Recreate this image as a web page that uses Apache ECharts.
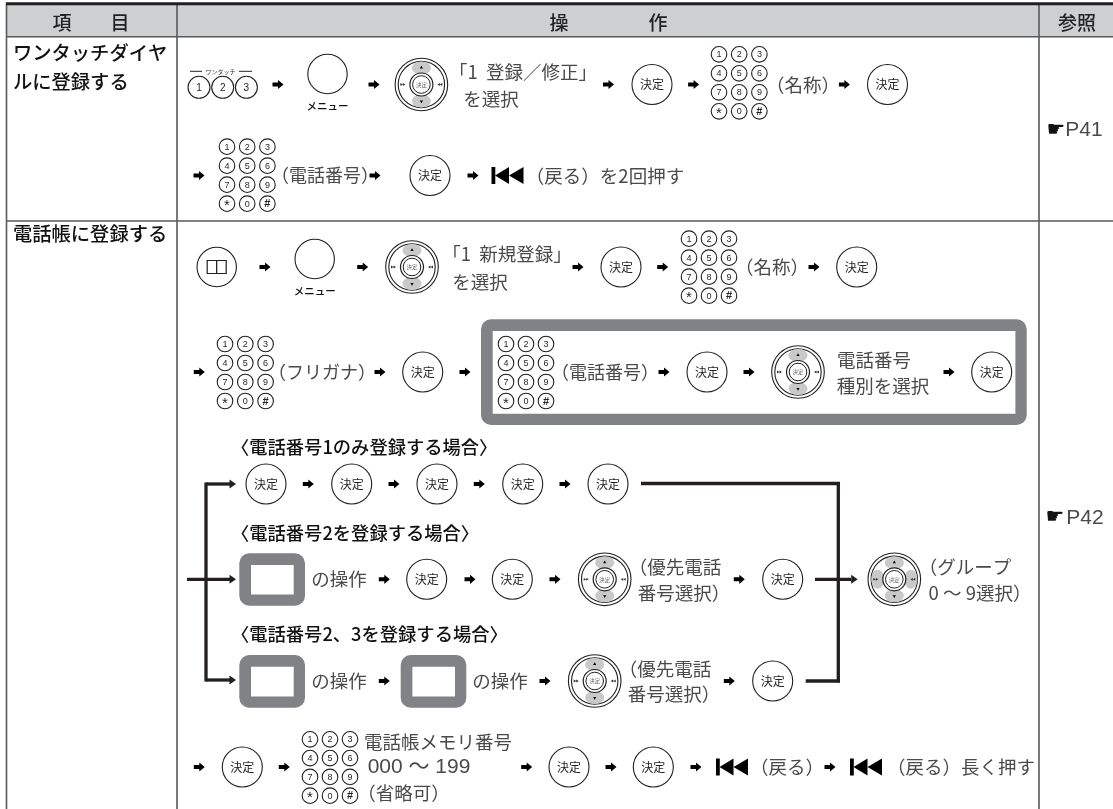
<!DOCTYPE html>
<html>
<head>
<meta charset="utf-8">
<script src="https://cdn.jsdelivr.net/npm/echarts@6/dist/echarts.min.js"></script>
<style>
html, body { margin: 0; padding: 0; background: #fff; }
#main { width: 1113px; height: 809px; }
</style>
</head>
<body>
<div id="main"></div>
<script>
// 表の文字
var keyLabels = ['1', '2', '3', '4', '5', '6', '7', '8', '9', '*', '0', '#'];
var topKeyLabels = ['1', '2', '3'];
var okLabel = '決定';
var menuLabel = 'メニュー';
var oneTouchLabel = 'ワンタッチ';

// [x, y, 文字] 軸の値 = 図の読み取り
var headerTexts = [[62, 22.5, '項'], [120, 22.5, '目'], [559, 22.5, '操'], [658, 22.5, '作'], [1077, 22.5, '参照']];
var rowTitles = [[13, 53, 'ワンタッチダイヤ'], [13, 82, 'ルに登録する'], [13, 234, '電話帳に登録する']];
var caseTitles = [[231, 447, '〈電話番号1のみ登録する場合〉'], [231, 533, '〈電話番号2を登録する場合〉'], [231, 634, '〈電話番号2、3を登録する場合〉']];
var stepTexts = [
    [523, 71.5, '「1  登録／修正」'], [491, 98.5, 'を選択'],
    [803, 85, '（名称）'], [605, 175.5, '（戻る）を2回押す'],
    [507, 254, '「1  新規登録」'], [480, 282, 'を選択'],
    [772, 267, '（名称）'],
    [874, 360, '電話番号'], [883, 386, '種別を選択'],
    [339, 579, 'の操作'], [339, 681, 'の操作'], [500, 681, 'の操作'],
    [675, 567, '（優先電話'], [684, 593, '番号選択）'],
    [665, 669, '（優先電話'], [674, 694, '番号選択）'],
    [965, 567, '（グループ'], [980, 593, '0 ～ 9選択）'],
    [438, 742, '電話帳メモリ番号'], [403.5, 793, '（省略可）'],
    [787, 767, '（戻る）'], [961, 767, '（戻る）長く押す']
];
var narrowTexts = [[325, 175.5, '（電話番号）'], [322, 372, '（フリガナ）'], [605, 372, '（電話番号）']];
var numberTexts = [[419, 767, '000 ～ 199']];
var pageRefs = [[1084, 130.5, 'P41'], [1085, 518, 'P42']];
var pageHands = [[1056, 130.5], [1055, 518]];

// 部品の位置
var okButtons = [
    [652, 84.5], [887.5, 84.5], [430, 175.5], [621, 267], [856.7, 267],
    [422.7, 372], [707, 372], [991.7, 372],
    [266, 484], [351.7, 484], [437, 484], [522.7, 484], [608, 484],
    [426.7, 579.3], [512.3, 579.3], [782.7, 579.3], [772.7, 681],
    [242.3, 767], [569, 767], [653.3, 767]
];
var arrows = [
    [278, 84.5], [374, 84.5], [608.5, 84.5], [693.6, 84.5], [844.4, 84.5],
    [199, 175.5], [375, 175.5], [473, 175.5],
    [265, 267], [362.7, 267], [578, 267], [662.7, 267], [814, 267],
    [199.3, 372], [380, 372], [465, 372], [664, 372], [749, 372], [949, 372],
    [308.3, 484], [394, 484], [479.3, 484], [565, 484],
    [384.3, 579.3], [470, 579.3], [555, 579.3], [739.3, 579.3],
    [384.3, 681], [545, 681], [729.3, 681],
    [199.3, 767], [284.3, 767], [526.7, 767], [611, 767], [696, 767], [830, 767]
];
var dials = [[421.4, 84.5], [412, 267], [798, 372], [604.7, 579.3], [594.7, 681]];
var fourWayDials = [[894.3, 579.3]];
// [左上のx, 左上のy, 列の間隔, 行の間隔]
var keypads = [
    [719, 54.3, 20.2, 19], [227, 146.7, 20.2, 19], [689, 238.7, 20, 19],
    [225, 344, 20.3, 19], [506, 344, 20, 19], [310, 739.3, 20, 18.8]
];
var menuButtons = [[327.5, 74], [314.7, 259]];
var bookButtons = [[216.7, 267]];
var oneTouchKeys = [[199, 87.3]];
var backIcons = [[507.5, 175.5], [732, 767], [866, 767]];

// 灰色の枠 [外左, 外上, 外右, 外下]
var frames = [[481, 319.3, 1026.7, 425], [239.3, 553.3, 305, 605.7], [239.3, 655, 305, 707.7], [400.7, 655, 466.3, 707.7]];

// 線 [x1, y1, x2, y2]
var tableRules = [[6.5, 3, 6.5, 809], [177, 5, 177, 809], [1039, 5, 1039, 809], [6, 221, 1113, 221], [6, 36.8, 1113, 36.8]];
var flowRules = [
    [187, 579.3, 231, 579.3], [206, 484, 231, 484], [206, 482.5, 206, 681.5], [206, 680, 231, 680],
    [641, 483.5, 840, 483.5], [838.3, 482, 838.3, 682.5], [805.7, 681, 840, 681], [815, 579.3, 851, 579.3]
];
var flowHeads = [[236, 484], [236, 579.3], [236, 680], [857.7, 579.3]];

var INK = '#231f20';
var SOFT = '#4a4a4a';
var CJK = '"Noto Sans CJK JP", sans-serif';
var LATIN = '"Liberation Sans", sans-serif';

function marks(rows, draw) {
    return {
        type: 'custom',
        coordinateSystem: 'cartesian2d',
        clip: false,
        silent: true,
        data: rows.map(function (r) { return [r[0], r[1]]; }),
        encode: { x: 0, y: 1 },
        renderItem: function (params, api) {
            var row = rows[params.dataIndex];
            return draw(api.coord([row[0], row[1]]), row, api);
        }
    };
}

function text(x, y, str, size, fill, align, weight, family) {
    return {
        type: 'text', x: x, y: y,
        style: {
            text: str, fontSize: size, fontFamily: family || CJK, fill: fill,
            fontWeight: weight || 'normal', align: align || 'center', verticalAlign: 'middle'
        }
    };
}

function circle(x, y, r, fill, lw) {
    return { type: 'circle', shape: { cx: x, cy: y, r: r }, style: { fill: fill || '#fff', stroke: INK, lineWidth: lw || 1.1 } };
}

function poly(points, fill) {
    return { type: 'polygon', shape: { points: points }, style: { fill: fill || '#000' } };
}

function keyCircle(x, y, label) {
    if (label === '#') {
        return [circle(x, y, 7.8), text(x, y + 0.5, label, 11, INK, 'center', 'bold', LATIN)];
    }
    if (label === '*') {
        return [circle(x, y, 7.8), text(x, y + 2.5, label, 15, INK, 'center', 'normal', LATIN)];
    }
    return [circle(x, y, 7.8), text(x, y + 0.5, label, 9, INK, 'center', 'normal', LATIN)];
}

function drawDial(p, fourWay) {
    var c = [];
    c.push(circle(0, 0, 26.3));
    c.push(circle(0, 0, 23.2));
    var lobes = fourWay ? [[0, -16.5], [0, 16.5], [-16.5, 0], [16.5, 0]] : [[0, -16.5], [0, 16.5]];
    lobes.forEach(function (l) {
        var rx = l[0] === 0 ? 9.5 : 6.5;
        var ry = l[0] === 0 ? 6.5 : 9.5;
        c.push({ type: 'ellipse', shape: { cx: l[0], cy: l[1], rx: rx, ry: ry }, style: { fill: '#c9c9c9' } });
    });
    c.push(poly([[-1.6, -16], [1.6, -16], [0, -18.8]]));
    c.push(poly([[-1.6, 16], [1.6, 16], [0, 18.8]]));
    c.push(poly([[-16, 0], [-18.5, -1.4], [-18.5, 1.4]], '#333'));
    c.push(poly([[-18.5, 0], [-21, -1.4], [-21, 1.4]], '#333'));
    c.push(poly([[16, 0], [18.5, -1.4], [18.5, 1.4]], '#333'));
    c.push(poly([[18.5, 0], [21, -1.4], [21, 1.4]], '#333'));
    c.push(circle(0, 0, 11.5, '#fff', 1.2));
    c.push(circle(0, 0, 8.8, '#fff', 1));
    c.push(text(0, 0.3, okLabel, 5.5, '#666'));
    return { type: 'group', x: p[0], y: p[1], children: c };
}

function drawRules(color, width) {
    return function (p, row, api) {
        var q = api.coord([row[2], row[3]]);
        return { type: 'line', shape: { x1: p[0], y1: p[1], x2: q[0], y2: q[1] }, style: { stroke: color, lineWidth: width } };
    };
}

var series = [];

// 見出しの帯
series.push(marks([[7, 5, 1113, 36]], function (p, row, api) {
    var q = api.coord([row[2], row[3]]);
    return { type: 'rect', shape: { x: p[0], y: p[1], width: q[0] - p[0], height: q[1] - p[1] }, style: { fill: '#cdcfd1' } };
}));
series.push(marks(tableRules, drawRules('#58595b', 1.6)));
series.push(marks([[6, 3.8, 1113, 3.8]], drawRules(INK, 3)));

series.push(marks(frames, function (p, row, api) {
    var q = api.coord([row[2], row[3]]);
    var w = q[0] - p[0];
    var h = q[1] - p[1];
    return {
        type: 'group', x: p[0], y: p[1], children: [
            { type: 'rect', shape: { x: 0, y: 0, width: w, height: h, r: 10 }, style: { fill: '#808285' } },
            { type: 'rect', shape: { x: 11.7, y: 11.7, width: w - 23, height: h - 23 }, style: { fill: '#fff' } }
        ]
    };
}));

series.push(marks(flowRules, drawRules(INK, 3.3)));
series.push(marks(flowHeads, function (p) {
    return { type: 'group', x: p[0], y: p[1], children: [poly([[0, 0], [-6.5, -4.5], [-6.5, 4.5]], INK)] };
}));

series.push(marks(headerTexts, function (p, row) { return text(p[0], p[1], row[2], 19, '#222', 'center', 500); }));
series.push(marks(rowTitles, function (p, row) { return text(p[0], p[1], row[2], 19.3, '#111', 'left', 500); }));
series.push(marks(caseTitles, function (p, row) { return text(p[0], p[1], row[2], 18.3, '#111', 'left', 500); }));
series.push(marks(stepTexts, function (p, row) { return text(p[0], p[1], row[2], 18.5, SOFT); }));
series.push(marks(narrowTexts, function (p, row) { return text(p[0], p[1], row[2], 18, SOFT); }));
series.push(marks(numberTexts, function (p, row) { return text(p[0], p[1], row[2], 21, SOFT, 'center', 'normal', LATIN + ', ' + CJK); }));
series.push(marks(pageRefs, function (p, row) { return text(p[0], p[1], row[2], 21, SOFT, 'center', 'normal', LATIN); }));
series.push(marks(pageHands, function (p) { return text(p[0], p[1], '☛', 21, '#111', 'center', 'normal', '"DejaVu Sans", sans-serif'); }));

series.push(marks(okButtons, function (p) {
    return { type: 'group', x: p[0], y: p[1], children: [circle(0, 0, 20), text(0, 0, okLabel, 12, INK)] };
}));

series.push(marks(arrows, function (p) {
    return {
        type: 'group', x: p[0], y: p[1],
        children: [poly([[-5.5, -2], [0, -2], [0, -4.6], [5.5, 0], [0, 4.6], [0, 2], [-5.5, 2]])]
    };
}));

series.push(marks(dials, function (p) { return drawDial(p, false); }));
series.push(marks(fourWayDials, function (p) { return drawDial(p, true); }));

series.push(marks(keypads, function (p, row) {
    var c = [];
    keyLabels.forEach(function (label, i) {
        c = c.concat(keyCircle((i % 3) * row[2], Math.floor(i / 3) * row[3], label));
    });
    return { type: 'group', x: p[0], y: p[1], children: c };
}));

series.push(marks(menuButtons, function (p) {
    return { type: 'group', x: p[0], y: p[1], children: [circle(0, 0, 19.7), text(0, 32, menuLabel, 10.5, '#111', 'center', 500)] };
}));

series.push(marks(bookButtons, function (p) {
    return {
        type: 'group', x: p[0], y: p[1], children: [
            circle(0, 0, 19.7),
            { type: 'rect', shape: { x: -9.5, y: -6.5, width: 9.5, height: 13 }, style: { fill: '#fff', stroke: INK, lineWidth: 1.2 } },
            { type: 'rect', shape: { x: 0, y: -6.5, width: 9.5, height: 13 }, style: { fill: '#fff', stroke: INK, lineWidth: 1.2 } }
        ]
    };
}));

series.push(marks(oneTouchKeys, function (p) {
    var c = [];
    topKeyLabels.forEach(function (label, i) {
        c.push(circle(i * 23.7, 0, 11));
        c.push(text(i * 23.7, 0.5, label, 10, INK, 'center', 'normal', LATIN));
    });
    c.push({ type: 'line', shape: { x1: -9, y1: -16, x2: 3, y2: -16 }, style: { stroke: INK, lineWidth: 1 } });
    c.push({ type: 'line', shape: { x1: 40, y1: -16, x2: 53, y2: -16 }, style: { stroke: INK, lineWidth: 1 } });
    c.push(text(21.5, -16, oneTouchLabel, 6, '#333'));
    return { type: 'group', x: p[0], y: p[1], children: c };
}));

series.push(marks(backIcons, function (p) {
    return {
        type: 'group', x: p[0], y: p[1], children: [
            { type: 'rect', shape: { x: -16, y: -8.5, width: 3.8, height: 17 }, style: { fill: '#000' } },
            poly([[-12.5, 0], [1.5, -8.5], [1.5, 8.5]]),
            poly([[1.5, 0], [16, -8.5], [16, 8.5]])
        ]
    };
}));

var myChart = echarts.init(document.getElementById('main'), null, { renderer: 'canvas' });
myChart.setOption({
    animation: false,
    backgroundColor: '#fff',
    grid: { left: 0, right: 0, top: 0, bottom: 0 },
    xAxis: { type: 'value', min: 0, max: 1113, show: false },
    yAxis: { type: 'value', min: 0, max: 809, inverse: true, show: false },
    series: series
});
</script>
</body>
</html>
